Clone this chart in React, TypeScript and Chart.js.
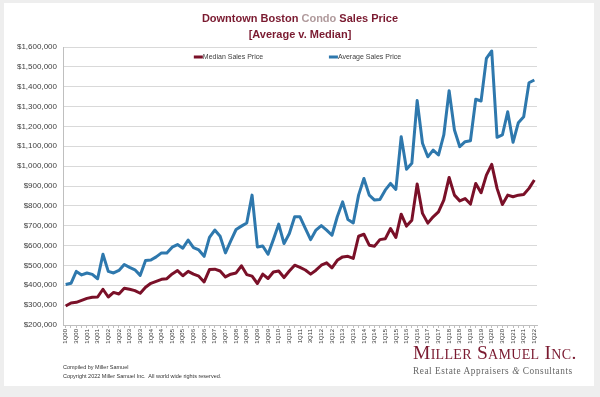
import { useEffect, useRef } from "react";
import { Chart, registerables } from "chart.js";

Chart.register(...registerables);

const quarters = [
  "1Q00", "2Q00", "3Q00", "4Q00",
  "1Q01", "2Q01", "3Q01", "4Q01",
  "1Q02", "2Q02", "3Q02", "4Q02",
  "1Q03", "2Q03", "3Q03", "4Q03",
  "1Q04", "2Q04", "3Q04", "4Q04",
  "1Q05", "2Q05", "3Q05", "4Q05",
  "1Q06", "2Q06", "3Q06", "4Q06",
  "1Q07", "2Q07", "3Q07", "4Q07",
  "1Q08", "2Q08", "3Q08", "4Q08",
  "1Q09", "2Q09", "3Q09", "4Q09",
  "1Q10", "2Q10", "3Q10", "4Q10",
  "1Q11", "2Q11", "3Q11", "4Q11",
  "1Q12", "2Q12", "3Q12", "4Q12",
  "1Q13", "2Q13", "3Q13", "4Q13",
  "1Q14", "2Q14", "3Q14", "4Q14",
  "1Q15", "2Q15", "3Q15", "4Q15",
  "1Q16", "2Q16", "3Q16", "4Q16",
  "1Q17", "2Q17", "3Q17", "4Q17",
  "1Q18", "2Q18", "3Q18", "4Q18",
  "1Q19", "2Q19", "3Q19", "4Q19",
  "1Q20", "2Q20", "3Q20", "4Q20",
  "1Q21", "2Q21", "3Q21", "4Q21",
  "1Q22",
];

const medianSalesPrice = [
  296000, 311000, 314000, 324000, 334000, 340000, 341000, 380000, 341000, 364000,
  356000, 385000, 380000, 373000, 360000, 390000, 410000, 420000, 430000, 433000,
  457000, 474000, 448000, 470000, 456000, 446000, 417000, 479000, 481000, 472000,
  442000, 456000, 462000, 498000, 454000, 446000, 409000, 456000, 434000, 467000,
  472000, 439000, 472000, 501000, 490000, 477000, 456000, 476000, 501000, 513000,
  488000, 526000, 543000, 546000, 535000, 647000, 657000, 602000, 597000, 630000,
  634000, 686000, 641000, 758000, 698000, 728000, 910000, 762000, 713000, 745000,
  770000, 829000, 943000, 854000, 825000, 837000, 809000, 913000, 866000, 955000,
  1009000, 888000, 807000, 854000, 846000, 854000, 857000, 888000, 930000,
];

const averageSalesPrice = [
  404000, 410000, 470000, 452000, 462000, 455000, 433000, 556000, 470000, 462000,
  475000, 505000, 490000, 478000, 450000, 525000, 527000, 543000, 563000, 562000,
  592000, 605000, 587000, 628000, 590000, 578000, 546000, 641000, 678000, 647000,
  563000, 624000, 681000, 698000, 714000, 854000, 593000, 598000, 556000, 630000,
  708000, 610000, 661000, 745000, 745000, 686000, 630000, 678000, 701000, 678000,
  652000, 745000, 820000, 731000, 714000, 854000, 938000, 854000, 829000, 832000,
  879000, 913000, 883000, 1148000, 984000, 1014000, 1330000, 1115000, 1047000, 1081000,
  1056000, 1157000, 1380000, 1182000, 1098000, 1123000, 1128000, 1337000, 1328000, 1543000,
  1580000, 1145000, 1157000, 1274000, 1120000, 1219000, 1249000, 1420000, 1434000,
];

const seriesNames = ["Median Sales Price", "Average Sales Price"];
const seriesColors = ["#7a1028", "#2e78ad"];
const legendSlots = [0.276, 0.561];

const SANS = '"Liberation Sans", Arial, sans-serif';
const SERIF = '"Liberation Serif", "DejaVu Serif", serif';

const insideLegend = {
  id: "insideLegend",
  afterDraw(chart: any) {
    const { ctx, chartArea } = chart;
    const w = chartArea.right - chartArea.left;
    const y = chartArea.top + 10;
    ctx.save();
    ctx.font = `7px ${SANS}`;
    ctx.textBaseline = "middle";
    ctx.textAlign = "left";
    chart.data.datasets.forEach((ds: any, i: number) => {
      const x = chartArea.left + w * legendSlots[i];
      ctx.fillStyle = ds.borderColor;
      ctx.fillRect(x, y - 1.5, 9, 3);
      ctx.fillStyle = "#404040";
      ctx.fillText(ds.label, x + 9, y);
    });
    ctx.restore();
  },
};

function fmtMoney(v: number) {
  return "$" + Math.round(v).toLocaleString("en-US");
}

export default function App() {
  const ref = useRef<HTMLCanvasElement | null>(null);

  useEffect(() => {
    if (!ref.current) return;
    Chart.defaults.font.family = SANS;
    const chart = new Chart(ref.current, {
      type: "line",
      data: {
        labels: quarters,
        datasets: [
          {
            label: seriesNames[0],
            data: medianSalesPrice,
            borderColor: seriesColors[0],
            backgroundColor: seriesColors[0],
            borderWidth: 3,
            pointRadius: 0,
            tension: 0,
            borderJoinStyle: "round",
          },
          {
            label: seriesNames[1],
            data: averageSalesPrice,
            borderColor: seriesColors[1],
            backgroundColor: seriesColors[1],
            borderWidth: 3,
            pointRadius: 0,
            tension: 0,
            borderJoinStyle: "round",
          },
        ],
      },
      options: {
        responsive: false,
        animation: false,
        layout: { padding: { top: 47, left: 0, right: 63, bottom: 22 } },
        plugins: {
          legend: { display: false },
          title: { display: false },
          tooltip: { enabled: false },
        },
        scales: {
          x: {
            type: "category",
            offset: true,
            afterFit: (s: any) => {
              s.height = 50;
            },
            grid: {
              drawOnChartArea: false,
              drawTicks: true,
              tickLength: 3,
              color: "#bfbfbf",
              offset: false,
            },
            border: { display: true, color: "#bfbfbf" },
            ticks: {
              autoSkip: false,
              maxRotation: 90,
              minRotation: 90,
              padding: 1,
              color: "#333333",
              font: { size: 6 },
              callback: function (this: any, val: any, index: number) {
                return index % 2 === 0 ? this.getLabelForValue(val) : "";
              },
            },
          },
          y: {
            min: 200000,
            max: 1600000,
            afterFit: (s: any) => {
              s.width = 63;
            },
            grid: { color: "#d9d9d9", drawTicks: false },
            border: { display: true, color: "#bfbfbf" },
            ticks: {
              stepSize: 100000,
              padding: 6,
              color: "#404040",
              font: { size: 8 },
              callback: (v: any) => fmtMoney(Number(v)),
            },
          },
        },
      },
      plugins: [insideLegend],
    } as any);
    return () => chart.destroy();
  }, []);

  return (
    <div
      style={{
        position: "fixed",
        left: 0,
        top: 0,
        width: 600,
        height: 397,
        background: "#eeeeee",
        overflow: "hidden",
      }}
    >
      <div
        style={{
          position: "absolute",
          left: 4,
          top: 3,
          width: 590,
          height: 383,
          background: "#ffffff",
        }}
      />
      <canvas
        ref={ref}
        width={600}
        height={397}
        style={{ position: "absolute", left: 0, top: 0, width: 600, height: 397 }}
      />
      <div
        style={{
          position: "absolute",
          left: 0,
          top: 10,
          width: 600,
          textAlign: "center",
          fontFamily: SANS,
          fontWeight: "bold",
          fontSize: 11,
          lineHeight: "16px",
          color: "#7a1a30",
        }}
      >
        <div>
          Downtown Boston <span style={{ color: "#b09a9c" }}>Condo</span> Sales Price
        </div>
        <div>[Average v. Median]</div>
      </div>
      <div
        style={{
          position: "absolute",
          left: 63,
          top: 363,
          fontFamily: SANS,
          fontSize: 5.5,
          lineHeight: "8.5px",
          color: "#333333",
          whiteSpace: "pre",
        }}
      >
        <div>Compiled by Miller Samuel</div>
        <div>Copyright 2022 Miller Samuel Inc.  All world wide rights reserved.</div>
      </div>
      <div
        style={{
          position: "absolute",
          left: 413,
          top: 341,
          width: 164,
          textAlign: "left",
          fontFamily: SERIF,
          color: "#7a1a30",
          whiteSpace: "nowrap",
        }}
      >
        <div style={{ fontSize: 19.5, lineHeight: "24px", fontVariant: "small-caps", letterSpacing: 0.3 }}>
          Miller Samuel Inc.
        </div>
        <div style={{ fontSize: 9.3, lineHeight: "12px", color: "#666666", letterSpacing: 0.55 }}>
          Real Estate Appraisers <i>&amp;</i> Consultants
        </div>
      </div>
    </div>
  );
}
